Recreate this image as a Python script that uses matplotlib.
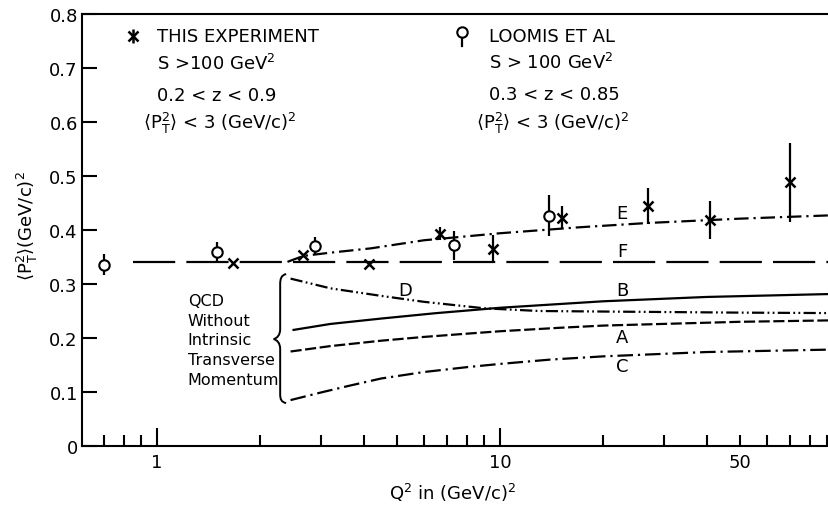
import numpy as np
import matplotlib
matplotlib.use("Agg")
import matplotlib.pyplot as plt
import matplotlib.transforms as mtransforms
from matplotlib.path import Path
from matplotlib.patches import PathPatch
from matplotlib.ticker import FixedLocator, FuncFormatter

plt.rcParams['font.family'] = ['DejaVu Sans']
plt.rcParams['mathtext.fontset'] = 'dejavusans'

# this experiment (crosses)
this_q2 = [1.67, 2.67, 4.16, 6.68, 9.52, 15.2, 27.0, 40.9, 70.1]
this_pt2 = [0.338, 0.354, 0.337, 0.393, 0.365, 0.423, 0.445, 0.419, 0.488]
this_err = [0.0, 0.0, 0.0, 0.012, 0.025, 0.022, 0.033, 0.035, 0.074]

# Loomis et al (open circles)
loomis_q2 = [0.70, 1.50, 2.89, 7.36, 13.9]
loomis_pt2 = [0.336, 0.359, 0.370, 0.372, 0.426]
loomis_err = [0.020, 0.018, 0.017, 0.027, 0.038]

# model curves
E_q2 = [2.4, 2.67, 3.2, 4.2, 6.0, 10, 17, 27, 50, 100]
E_pt2 = [0.341, 0.352, 0.358, 0.366, 0.381, 0.394, 0.405, 0.413, 0.421, 0.428]
F_q2 = [0.85, 100]
F_pt2 = [0.341, 0.341]
D_q2 = [2.45, 3.2, 4.5, 6.0, 9.0, 13, 20, 50, 100]
D_pt2 = [0.310, 0.292, 0.278, 0.267, 0.255, 0.250, 0.249, 0.247, 0.246]
B_q2 = [2.5, 3.2, 4.5, 6.5, 10, 20, 40, 100]
B_pt2 = [0.215, 0.226, 0.236, 0.246, 0.256, 0.268, 0.276, 0.282]
A_q2 = [2.45, 3.2, 4.5, 6.0, 8.0, 10, 15, 20, 50, 100]
A_pt2 = [0.175, 0.185, 0.195, 0.202, 0.208, 0.2125, 0.219, 0.223, 0.230, 0.233]
C_q2 = [2.45, 3.0, 3.6, 4.5, 6.0, 8.0, 10, 14, 20, 40, 100]
C_pt2 = [0.085, 0.099, 0.111, 0.125, 0.137, 0.146, 0.152, 0.160, 0.166, 0.174, 0.179]

curve_names = ["E", "F", "D", "B", "A", "C"]
curve_label_q2 = [22.7, 22.7, 5.3, 22.7, 22.7, 22.7]
curve_label_pt2 = [0.431, 0.361, 0.289, 0.289, 0.202, 0.148]

qcd_lines = ["QCD", "Without", "Intrinsic", "Transverse", "Momentum"]

W, H = 829, 510
fig = plt.figure(figsize=(W / 100, H / 100), dpi=100)
ax = fig.add_axes([82 / W, (H - 447) / H, 761 / W, 432 / H])

lw = 1.6
ax.plot(E_q2, E_pt2, color="black", lw=lw, ls=(0, (6.5, 2.2, 1.0, 2.2)))
ax.plot(F_q2, F_pt2, color="black", lw=lw, ls=(0, (19, 5)))
ax.plot(D_q2, D_pt2, color="black", lw=lw, ls=(0, (5.5, 1.5, 0.8, 1.5, 0.8, 1.5)))
ax.plot(B_q2, B_pt2, color="black", lw=lw, ls="-")
ax.plot(A_q2, A_pt2, color="black", lw=lw, ls=(0, (5, 1.6)))
ax.plot(C_q2, C_pt2, color="black", lw=lw, ls=(0, (7, 2.2, 1.0, 2.2)))

ax.errorbar(this_q2, this_pt2, yerr=this_err, fmt="x", color="black",
            ms=6.5, mew=1.8, elinewidth=1.6, capsize=0, zorder=4)
ax.errorbar(loomis_q2, loomis_pt2, yerr=loomis_err, fmt="o", color="black",
            mfc="white", ms=7.5, mew=1.5, elinewidth=1.6, capsize=0, zorder=5)

ax.set_xscale("log")
ax.set_xlim(0.604, 100)
ax.set_ylim(0, 0.8)

ax.xaxis.set_major_locator(FixedLocator([1, 10, 50]))
ax.xaxis.set_major_formatter(FuncFormatter(lambda v, p: "%d" % round(v)))
minors = [0.7, 0.8, 0.9] + list(range(2, 10)) + list(range(20, 100, 10))
minors.remove(50)
ax.xaxis.set_minor_locator(FixedLocator(minors))
ax.xaxis.set_minor_formatter(FuncFormatter(lambda v, p: ""))
ax.set_yticks(np.arange(0, 0.81, 0.1))
ax.yaxis.set_major_formatter(FuncFormatter(lambda v, p: "0" if v == 0 else "%.1f" % v))

ax.tick_params(axis="x", which="major", direction="in", length=13, width=1.5,
               labelsize=13, pad=5, top=False)
ax.tick_params(axis="x", which="minor", direction="in", length=8, width=1.5, top=False)
ax.tick_params(axis="y", which="major", direction="in", length=11, width=1.5,
               labelsize=13, pad=3, left=True, right=True)
ax.xaxis.get_major_ticks()[2].tick1line.set_markersize(8)
for s in ax.spines.values():
    s.set_linewidth(1.5)

# curve letters
for name, qx, qy in zip(curve_names, curve_label_q2, curve_label_pt2):
    ax.text(qx, qy, name, fontsize=13, ha="center", va="center")

# legend block, left
ax.plot([0.067], [0.949], marker="x", ms=7, mew=1.8, color="black", transform=ax.transAxes, clip_on=False)
ax.plot([0.067], [0.949], marker="|", ms=10, mew=1.8, color="black", transform=ax.transAxes, clip_on=False)
tx = dict(fontsize=13, va="center", ha="left", transform=ax.transAxes)
ax.text(0.099, 0.949, "THIS EXPERIMENT", **tx)
ax.text(0.099, 0.887, "S >100 GeV$^2$", **tx)
ax.text(0.099, 0.8125, "0.2 < z < 0.9", **tx)
ax.text(0.080, 0.748, r"$\langle\mathrm{P}_\mathrm{T}^2\rangle$ < 3 (GeV/c)$^2$", **tx)

# legend block, right
ax.plot([0.499, 0.499], [0.958, 0.925], color="black", lw=1.6, transform=ax.transAxes)
ax.plot([0.499], [0.958], marker="o", ms=7.5, mfc="white", mew=1.5, color="black",
        transform=ax.transAxes, clip_on=False)
ax.text(0.535, 0.949, "LOOMIS ET AL", **tx)
ax.text(0.535, 0.889, "S > 100 GeV$^2$", **tx)
ax.text(0.535, 0.815, "0.3 < z < 0.85", **tx)
ax.text(0.518, 0.748, r"$\langle\mathrm{P}_\mathrm{T}^2\rangle$ < 3 (GeV/c)$^2$", **tx)

# QCD note with brace
for i, line in enumerate(qcd_lines):
    ax.text(0.139, 0.336 - i * 0.0453, line, fontsize=11.5, va="center", ha="left",
            transform=ax.transAxes)

verts = [(0.06, 0.65), (0.01, 0.64), (0.0, 0.60), (0.0, 0.55),
         (0.0, 0.10),
         (0.0, 0.04), (-0.03, 0.01), (-0.065, 0.0),
         (-0.03, -0.01), (0.0, -0.04), (0.0, -0.10),
         (0.0, -0.55),
         (0.0, -0.60), (0.01, -0.63), (0.06, -0.64)]
codes = [Path.MOVETO, Path.CURVE4, Path.CURVE4, Path.CURVE4,
         Path.LINETO,
         Path.CURVE4, Path.CURVE4, Path.CURVE4,
         Path.CURVE4, Path.CURVE4, Path.CURVE4,
         Path.LINETO,
         Path.CURVE4, Path.CURVE4, Path.CURVE4]
brace_tr = fig.dpi_scale_trans + mtransforms.ScaledTranslation(2.285, 0.198, ax.transData)
ax.add_patch(PathPatch(Path(verts, codes), fill=False, lw=1.4, color="black",
                       transform=brace_tr, clip_on=False))

fig.text(27 / W, 1 - 226 / H, r"$\langle\mathrm{P}_\mathrm{T}^2\rangle$(GeV/c)$^2$",
         rotation=90, fontsize=13, ha="center", va="center")
fig.text(452 / W, 1 - 493 / H, r"Q$^2$ in (GeV/c)$^2$", fontsize=13, ha="center", va="center")

fig.savefig("out.png", dpi=100)
